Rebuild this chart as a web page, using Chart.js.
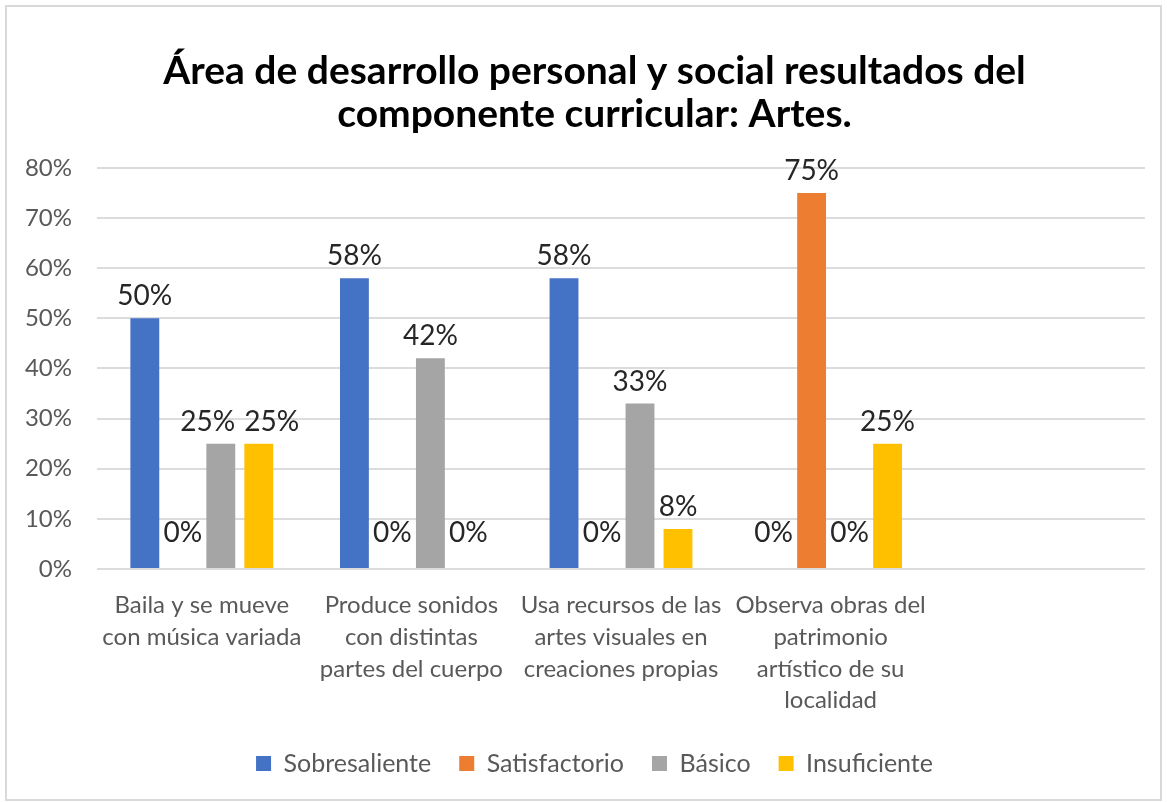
<!DOCTYPE html>
<html>
<head>
<meta charset="utf-8">
<script src="https://cdn.jsdelivr.net/npm/chart.js@4.4.1/dist/chart.umd.min.js"></script>
<style>
  html, body { margin: 0; padding: 0; background: #fff; }
  #wrap { position: absolute; left: 0; top: 0; width: 1167px; height: 802px; }
  #frame { position: absolute; left: 5px; top: 5px; width: 1153px; height: 792px;
           border: 2px solid #d9d9d9; pointer-events: none; }
</style>
</head>
<body>
<div id="wrap">
  <canvas id="chart" width="1167" height="802"></canvas>
  <div id="frame"></div>
</div>
<script>
// categories (the 5th slot is empty in the original)
const categories = [
    ['Baila y se mueve', 'con música variada'],
    ['Produce sonidos', 'con distintas', 'partes del cuerpo'],
    ['Usa recursos de las', 'artes visuales en', 'creaciones propias'],
    ['Observa obras del', 'patrimonio', 'artístico de su', 'localidad'],
    ''
];

const sobresaliente = [50, 58, 58, 0];
const satisfactorio = [0, 0, 0, 75];
const basico = [25, 42, 33, 0];
const insuficiente = [25, 0, 8, 25];

const seriesNames = ['Sobresaliente', 'Satisfactorio', 'Básico', 'Insuficiente'];
const seriesColors = ['#4472C4', '#ED7D31', '#A5A5A5', '#FFC000'];

const titleLines = ['Área de desarrollo personal y social resultados del', 'componente curricular: Artes.'];

const FONT = 'Lato, "Open Sans", sans-serif';
const LABEL_SIZE = 28;

// value labels on top of each bar, pushed apart when two of them collide
const barLabels = {
    id: 'barLabels',
    afterDatasetsDraw(chart) {
        const ctx = chart.ctx;
        ctx.save();
        ctx.font = LABEL_SIZE + 'px ' + FONT;
        ctx.fillStyle = '#262626';
        ctx.textAlign = 'center';
        ctx.textBaseline = 'middle';
        const byCat = {};
        chart.data.datasets.forEach((ds, i) => {
            const meta = chart.getDatasetMeta(i);
            meta.data.forEach((bar, j) => {
                const v = ds.data[j];
                if (v === null || v === undefined) return;
                const text = v + '%';
                const off = v === 0 ? 36 : 22;
                (byCat[j] = byCat[j] || []).push({
                    text: text, x: bar.x, y: bar.y - off, w: ctx.measureText(text).width
                });
            });
        });
        Object.values(byCat).forEach(list => {
            list.sort((a, b) => a.x - b.x);
            for (let k = 1; k < list.length; k++) {
                const a = list[k - 1], b = list[k];
                if (Math.abs(a.y - b.y) > LABEL_SIZE) continue;
                const need = (a.w + b.w) / 2 + 9 - (b.x - a.x);
                if (need > 0) {
                    a.x -= need / 2;
                    b.x += need / 2;
                }
            }
            list.forEach(l => ctx.fillText(l.text, l.x, l.y));
        });
        ctx.restore();
    }
};

// excel centres title and legend a little right of the canvas middle
const nudgeBoxes = {
    id: 'nudgeBoxes',
    afterLayout(chart) {
        [chart.titleBlock, chart.legend].forEach(box => {
            if (box) {
                box.left += 22;
                box.right += 22;
            }
        });
    }
};

const datasets = [sobresaliente, satisfactorio, basico, insuficiente].map((d, i) => ({
    label: seriesNames[i],
    data: d,
    backgroundColor: seriesColors[i],
    borderWidth: 0,
    categoryPercentage: 0.725,
    barPercentage: 0.76
}));

new Chart(document.getElementById('chart'), {
    type: 'bar',
    data: { labels: categories, datasets: datasets },
    plugins: [barLabels, nudgeBoxes],
    options: {
        responsive: false,
        animation: false,
        layout: { padding: { left: 0, right: 22, top: 0, bottom: 16 } },
        plugins: {
            title: {
                display: true,
                text: titleLines,
                color: '#000',
                font: { family: FONT, size: 39, weight: 'bold', lineHeight: 1.1 },
                padding: { top: 50, bottom: 32 }
            },
            legend: {
                position: 'bottom',
                labels: {
                    boxWidth: 15,
                    boxHeight: 15,
                    padding: 28,
                    color: '#595959',
                    font: { family: FONT, size: 25, lineHeight: 1.2 }
                }
            },
            tooltip: { enabled: false }
        },
        scales: {
            x: {
                grid: { display: false, drawTicks: false },
                border: { display: false },
                ticks: {
                    color: '#595959',
                    padding: 20,
                    maxRotation: 0,
                    autoSkip: false,
                    font: { family: FONT, size: 24, lineHeight: 1.33 }
                },
                afterFit(scale) { scale.height = 154; }
            },
            y: {
                min: 0,
                max: 80,
                ticks: {
                    stepSize: 10,
                    color: '#595959',
                    padding: 25,
                    font: { family: FONT, size: 24 },
                    callback: v => v + '%'
                },
                grid: { color: '#dcdcdc', lineWidth: 2, drawTicks: false },
                border: { display: false },
                afterFit(scale) { scale.width = 97; }
            }
        }
    }
});
</script>
</body>
</html>
